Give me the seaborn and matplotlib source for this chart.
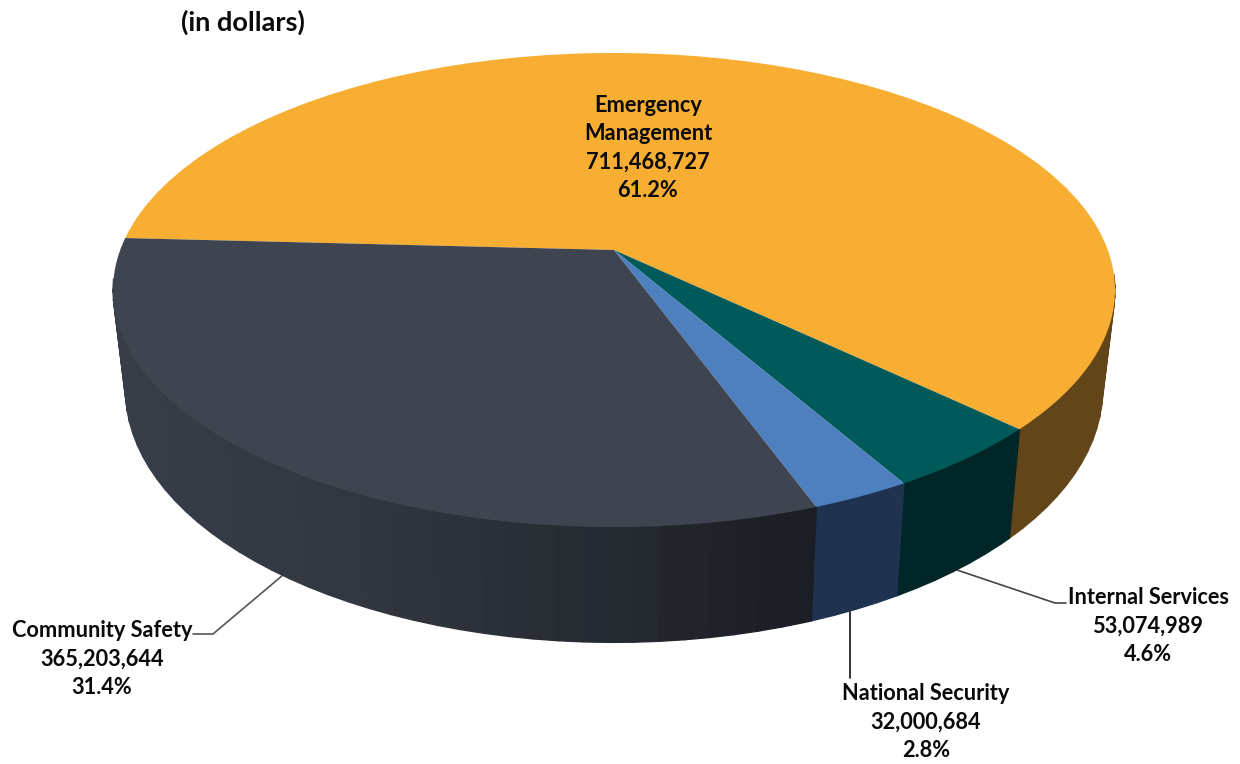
import numpy as np
import matplotlib
matplotlib.use('Agg')
import matplotlib.pyplot as plt
import seaborn as sns
from matplotlib.transforms import Transform

# values in dollars, clockwise from the left edge of the pie
categories = ['Emergency\nManagement', 'Internal Services', 'National Security', 'Community Safety']
amounts = [711468727, 53074989, 32000684, 365203644]
percents = ['61.2%', '4.6%', '2.8%', '31.4%']

top_colors = ['#F8AE33', '#005A5A', '#4E7FBE', '#3E4450']
side_colors = ['#63451A', '#012627', '#1F3350', None]
community_side = ['#383E48', '#2D323A', '#1A1D23']

CX, CY = 614, 250
K, A, C = 493.8, 230.3, 0.1688


def project(x, y, bottom=False):
    # unit disc -> pixels, seen from above with some perspective
    d = 1 + C * y
    sx = K * x / d
    sy = A * y / d
    if bottom:
        return CX + 0.975 * sx, CY + 97.3 - 1.065 * sy
    return CX + sx, CY - sy


class DiscTransform(Transform):
    input_dims = output_dims = 2

    def transform_non_affine(self, values):
        px, py = project(values[:, 0], values[:, 1])
        return np.column_stack([px, py])


sns.set_theme(style='white')
plt.rcParams['font.family'] = ['Lato', 'DejaVu Sans']

fig, ax = plt.subplots(figsize=(12.4, 7.64), dpi=100)
fig.subplots_adjust(0, 0, 1, 1)

wedges, _ = ax.pie(amounts, colors=sns.color_palette(top_colors), startangle=177,
                   counterclock=False, wedgeprops={'linewidth': 0})
ax.set_aspect('auto')
ax.set_xlim(0, 1240)
ax.set_ylim(764, 0)
ax.axis('off')

disc = DiscTransform() + ax.transData
for w in wedges:
    w.set_transform(disc)
    w.set_zorder(3)

# side wall, strips of a few degrees, the back part is hidden anyway
grad = sns.blend_palette(community_side, 64)
for w, col in zip(wedges, side_colors):
    angles = np.radians(np.arange(w.theta1, w.theta2 + 2.5, 2.5).clip(max=w.theta2))
    for a0, a1 in zip(angles[:-1], angles[1:]):
        xs = np.cos([a0, a1])
        ys = np.sin([a0, a1])
        if ys.max() > -0.1:
            continue
        tx, ty = project(xs, ys)
        bx, by = project(xs, ys, bottom=True)
        c = col
        if c is None:
            pos = (tx.mean() - 113) / (815 - 113)
            c = grad[int(np.clip(pos, 0, 1) * 63)]
        ax.fill([tx[0], tx[1], bx[1], bx[0]], [ty[0], ty[1], by[1], by[0]],
                facecolor=c, edgecolor=c, lw=1.0, zorder=2)

# leader lines
ax.plot([283, 213, 193], [575, 634, 634], color='#555555', lw=1.2, zorder=1)
ax.plot([850, 850], [608, 678], color='#111111', lw=1.2, zorder=1)
ax.plot([957, 1055, 1066], [570, 603, 603], color='#444444', lw=1.2, zorder=1)


def label(x, y, i):
    txt = f'{categories[i]}\n{amounts[i]:,}\n{percents[i]}'
    ax.text(x, y, txt, ha='center', va='center', fontsize=15.7, fontweight='bold',
            color='#0a0a0a', linespacing=1.42, zorder=5)


label(648, 148, 0)
label(1148, 626, 1)
label(926, 722, 2)
label(102, 659, 3)

ax.text(243, 22, '(in dollars)', ha='center', va='center', fontsize=19.5,
        fontweight='bold', color='#0a0a0a')

fig.savefig('out.png', dpi=100)
